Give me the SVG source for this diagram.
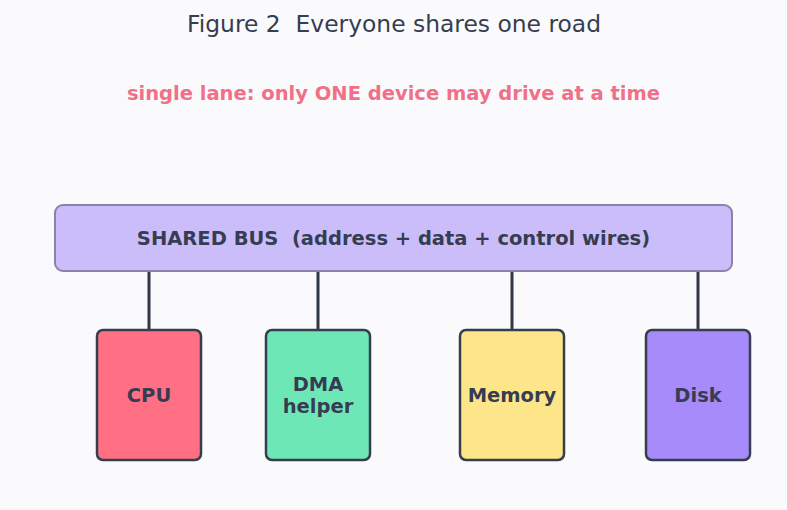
<svg xmlns="http://www.w3.org/2000/svg" width="787" height="510" viewBox="0 0 787 510">
<style>
.t{font-family:"DejaVu Sans",sans-serif;text-anchor:middle;white-space:pre}
.b{font-weight:bold;fill:#363d52}
.node{stroke:#363d4f;stroke-width:2.5}
.wire{stroke:#2f3645;stroke-width:3;fill:none}
</style>
<rect width="787" height="510" fill="#fafafd"/>
<text class="t" x="394" y="32" font-size="23.4" fill="#363d4f" xml:space="preserve">Figure 2  Everyone shares one road</text>
<text class="t" x="393.5" y="100" font-size="19.5" font-weight="bold" fill="#f07088">single lane: only ONE device may drive at a time</text>
<g id="connectors">
<line class="wire" x1="149" y1="271" x2="149" y2="330"/>
<line class="wire" x1="318" y1="271" x2="318" y2="330"/>
<line class="wire" x1="512" y1="271" x2="512" y2="330"/>
<line class="wire" x1="698" y1="271" x2="698" y2="330"/>
</g>
<g id="bus">
<rect x="55" y="205" width="677" height="66" rx="8" fill="#cbbdfa" stroke="#8a82a8" stroke-width="2"/>
<text class="t b" x="393.5" y="244.5" font-size="19.5" xml:space="preserve">SHARED BUS  (address + data + control wires)</text>
</g>
<g id="cpu">
<rect class="node" x="97" y="330" width="104" height="130" rx="6" fill="#ff7085"/>
<text class="t b" x="149" y="401.5" font-size="19.5">CPU</text>
</g>
<g id="dma">
<rect class="node" x="266" y="330" width="104" height="130" rx="6" fill="#6ee7b7"/>
<text class="t b" x="318" y="390.5" font-size="19.5">DMA</text>
<text class="t b" x="318" y="412.5" font-size="19.5">helper</text>
</g>
<g id="memory">
<rect class="node" x="460" y="330" width="104" height="130" rx="6" fill="#fde68a"/>
<text class="t b" x="512" y="401.5" font-size="19.5">Memory</text>
</g>
<g id="disk">
<rect class="node" x="646" y="330" width="104" height="130" rx="6" fill="#a78bfa"/>
<text class="t b" x="698" y="401.5" font-size="19.5">Disk</text>
</g>
</svg>
